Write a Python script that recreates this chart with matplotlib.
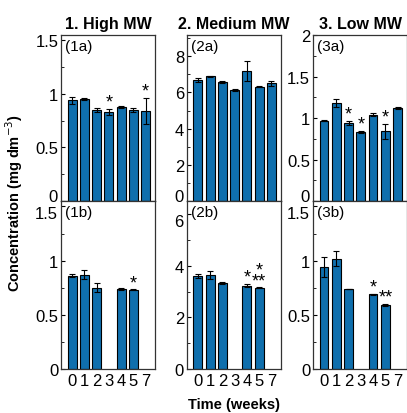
import numpy as np
import matplotlib
matplotlib.use('Agg')
import matplotlib.pyplot as plt
from matplotlib.ticker import MultipleLocator

plt.rcParams['font.family'] = ['Liberation Sans', 'DejaVu Sans']

# weeks (x categories)
weeks = ['0', '1', '2', '3', '4', '5', '7']
titles = ['1. High MW', '2. Medium MW', '3. Low MW']
nan = np.nan

# row a
mean_1a = [0.94, 0.95, 0.85, 0.83, 0.88, 0.85, 0.84]
err_1a = [0.03, 0.01, 0.02, 0.03, 0.01, 0.02, 0.12]
star_1a = ['', '', '', '*', '', '', '*']

mean_2a = [6.70, 6.88, 6.58, 6.15, 7.20, 6.32, 6.50]
err_2a = [0.10, 0.04, 0.04, 0.06, 0.55, 0.02, 0.15]
star_2a = ['', '', '', '', '', '', '']

mean_3a = [0.97, 1.18, 0.94, 0.83, 1.04, 0.84, 1.12]
err_3a = [0.005, 0.05, 0.03, 0.01, 0.02, 0.09, 0.01]
star_3a = ['', '', '*', '*', '', '*', '']

# row b (no samples at weeks 3 and 7)
mean_1b = [0.86, 0.87, 0.75, nan, 0.74, 0.73, nan]
err_1b = [0.015, 0.04, 0.04, nan, 0.01, 0.005, nan]
star_1b = ['', '', '', '', '', '*', '']

mean_2b = [3.59, 3.64, 3.33, nan, 3.22, 3.14, nan]
err_2b = [0.08, 0.15, 0.03, nan, 0.06, 0.02, nan]
star_2b = ['', '', '', '', '*', '*\n**', '']

mean_3b = [0.94, 1.02, 0.74, nan, 0.69, 0.59, nan]
err_3b = [0.09, 0.07, 0.003, nan, 0.003, 0.01, nan]
star_3b = ['', '', '', '', '*', '**', '']

panels = [
    [(mean_1a, err_1a, star_1a, '(1a)', 1.55, 0.5, 0.25, 1.5),
     (mean_2a, err_2a, star_2a, '(2a)', 9.17, 2, 1, 8),
     (mean_3a, err_3a, star_3a, '(3a)', 2.0, 0.5, 0.25, 2)],
    [(mean_1b, err_1b, star_1b, '(1b)', 1.55, 0.5, 0.25, 1.5),
     (mean_2b, err_2b, star_2b, '(2b)', 6.5, 2, 1, 6),
     (mean_3b, err_3b, star_3b, '(3b)', 1.55, 0.5, 0.25, 1.5)],
]

bar_color = '#0f6fad'

fig = plt.figure(figsize=(4.07, 4.14), dpi=100)
lefts = [0.150, 0.459, 0.769]
w = 0.232
row_y = [(0.512, 0.401), (0.106, 0.406)]

x = np.arange(len(weeks))
for r in range(2):
    for c in range(3):
        mean, err, stars, lab, ytop, major, minor, ymax_tick = panels[r][c]
        mean = np.array(mean, dtype=float)
        err = np.array(err, dtype=float)
        ax = fig.add_axes([lefts[c], row_y[r][0], w, row_y[r][1]])
        ok = ~np.isnan(mean)
        ax.bar(x[ok], mean[ok], width=0.72, color=bar_color,
               edgecolor='black', linewidth=0.8, zorder=2)
        ax.errorbar(x[ok], mean[ok], yerr=err[ok], fmt='none', ecolor='black',
                    elinewidth=0.8, capsize=2.2, capthick=0.8, zorder=3)
        for i, s in enumerate(stars):
            if s:
                ax.text(x[i], mean[i] + err[i] - ytop * 0.01, s, ha='center',
                        va='bottom', fontsize=13, linespacing=0.5)
        ax.set_xlim(-0.9, 6.8)
        ax.set_ylim(0, ytop)
        ax.yaxis.set_major_locator(MultipleLocator(major))
        ax.yaxis.set_minor_locator(MultipleLocator(minor))
        # the label at the shared border between rows is drawn by hand below
        skip = 0 if r == 0 else ymax_tick
        ax.yaxis.set_major_formatter(plt.FuncFormatter(
            lambda v, p, skip=skip: '' if abs(v - skip) < 1e-9 else f'{v:g}'))
        ax.tick_params(axis='y', direction='in', length=3, width=0.8,
                       labelsize=12, pad=2)
        ax.tick_params(axis='y', which='minor', direction='in', length=2, width=0.6)
        ax.text(-0.035, skip, f'{skip:g}', transform=ax.get_yaxis_transform(),
                ha='right', va='baseline' if r == 0 else 'top', fontsize=12)
        ax.set_xticks(x)
        if r == 1:
            ax.set_xticklabels(weeks, fontsize=12)
        else:
            ax.set_xticklabels([])
        ax.tick_params(axis='x', length=0, pad=3)
        for sp in ax.spines.values():
            sp.set_linewidth(0.9)
            sp.set_color('#333333')
        ax.text(0.04, 0.975, lab, transform=ax.transAxes, ha='left', va='top',
                fontsize=11)
        if r == 0:
            ax.set_title(titles[c], fontsize=11.5, fontweight='bold', pad=5)
        if r == 1 and c == 1:
            ax.set_xlabel('Time (weeks)', fontsize=10.5, fontweight='bold',
                          labelpad=6)

fig.text(0.035, 0.51, 'Concentration (mg dm$^{-3}$)', rotation=90,
         ha='center', va='center', fontsize=10.5, fontweight='bold')

fig.savefig('out.png', dpi=100)
